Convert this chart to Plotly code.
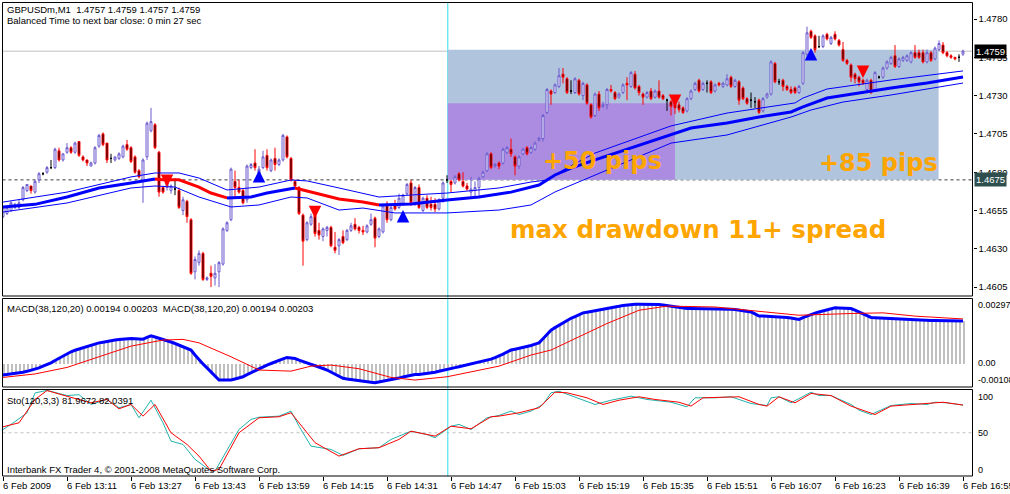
import plotly.graph_objects as go

# ---------------- data ----------------
BASE = 1.4600   # candle / moving-average values are pips above this level
PIP = 0.0001

OPEN = [51, 53, 55, 57, 57, 62, 68, 71, 67, 75,
        79, 80, 83, 83, 94, 88, 93, 96, 93, 100,
        90, 88, 84, 86, 97, 105, 99, 89, 88, 89,
        90, 98, 96, 90, 81, 74, 90, 107, 111, 93,
        70, 70, 68, 69, 68, 55, 61, 49, 15, 21,
        27, 10, 14, 11, 15, 20, 42, 49, 74, 70,
        68, 62, 83, 86, 77, 83, 91, 81, 89, 85,
        88, 103, 89, 74, 70, 52, 36, 46, 52, 42,
        38, 42, 44, 31, 32, 38, 36, 42, 46, 44,
        42, 41, 46, 50, 38, 41, 59, 49, 58, 57,
        59, 66, 73, 59, 70, 55, 63, 59, 59, 56,
        63, 75, 74, 73, 79, 74, 71, 67, 68, 70,
        77, 81, 92, 84, 86, 86, 93, 95, 90, 84,
        92, 96, 93, 95, 101, 102, 119, 133, 132, 136,
        144, 141, 133, 132, 140, 130, 137, 124, 117, 131,
        123, 124, 134, 132, 129, 132, 138, 136, 144, 136,
        131, 129, 133, 129, 133, 130, 127, 126, 128, 124,
        122, 120, 128, 134, 140, 134, 138, 139, 133, 138,
        136, 137, 142, 136, 139, 135, 128, 127, 126, 127,
        120, 129, 131, 151, 139, 140, 136, 134, 135, 132,
        138, 157, 172, 169, 162, 162, 170, 164, 170, 166,
        160, 153, 150, 144, 142, 140, 134, 140, 134, 142,
        142, 148, 151, 156, 149, 153, 153, 152, 158, 158,
        158, 152, 158, 154, 160, 163, 158, 156, 155, 155,
        157]
HIGH = [58, 58, 61, 60, 62, 71, 72, 71, 75, 80,
        80, 84, 88, 96, 96, 92, 99, 97, 100, 100,
        91, 88, 87, 97, 105, 106, 99, 92, 90, 93,
        98, 101, 97, 91, 82, 89, 113, 122, 112, 94,
        71, 78, 72, 76, 70, 64, 62, 50, 25, 29,
        28, 12, 19, 20, 22, 44, 48, 83, 81, 75,
        69, 85, 86, 95, 84, 94, 95, 89, 96, 89,
        105, 104, 90, 75, 71, 53, 48, 53, 53, 47,
        44, 45, 45, 41, 37, 42, 43, 47, 50, 45,
        45, 46, 53, 51, 44, 59, 61, 58, 62, 66,
        66, 73, 75, 71, 72, 64, 65, 64, 63, 63,
        74, 78, 75, 78, 80, 80, 73, 77, 74, 77,
        81, 93, 93, 86, 87, 96, 97, 102, 91, 91,
        96, 97, 97, 100, 103, 118, 135, 134, 138, 148,
        148, 142, 140, 142, 141, 139, 138, 125, 132, 133,
        126, 135, 137, 133, 132, 138, 142, 146, 146, 137,
        132, 133, 135, 134, 140, 131, 128, 127, 129, 126,
        123, 129, 134, 139, 141, 139, 140, 140, 138, 139,
        139, 144, 143, 141, 140, 136, 129, 132, 129, 128,
        129, 132, 153, 152, 141, 141, 137, 136, 136, 137,
        159, 175, 173, 170, 169, 170, 171, 169, 172, 167,
        165, 154, 151, 145, 143, 141, 141, 141, 146, 143,
        149, 153, 156, 163, 155, 156, 157, 159, 163, 160,
        160, 160, 159, 162, 166, 165, 159, 157, 155, 157,
        160]
LOW = [50, 52, 54, 56, 56, 61, 67, 66, 66, 73,
       78, 79, 82, 82, 87, 87, 92, 92, 92, 90,
       87, 84, 84, 85, 96, 97, 86, 86, 87, 88,
       89, 94, 86, 79, 76, 60, 88, 106, 95, 64,
       66, 68, 66, 65, 56, 52, 47, 13, 10, 19,
       9, 9, 5, 6, 5, 19, 41, 48, 64, 66,
       59, 60, 82, 81, 75, 82, 81, 80, 81, 84,
       87, 89, 74, 70, 52, 19, 35, 45, 38, 36,
       35, 38, 31, 27, 26, 33, 35, 41, 42, 40,
       39, 40, 45, 31, 37, 40, 47, 48, 55, 56,
       58, 65, 58, 58, 56, 54, 56, 55, 54, 55,
       60, 73, 67, 72, 74, 70, 68, 64, 64, 64,
       76, 80, 82, 83, 82, 85, 92, 90, 78, 82,
       91, 91, 92, 94, 100, 100, 118, 124, 131, 135,
       138, 131, 131, 131, 130, 127, 124, 115, 116, 120,
       122, 121, 132, 127, 128, 131, 127, 135, 134, 130,
       124, 128, 127, 128, 128, 127, 120, 117, 118, 119,
       118, 119, 127, 133, 132, 133, 132, 131, 132, 136,
       135, 136, 135, 135, 124, 127, 124, 122, 122, 118,
       119, 128, 130, 138, 137, 133, 133, 131, 131, 131,
       137, 155, 167, 158, 161, 161, 166, 163, 166, 162,
       152, 150, 139, 138, 136, 137, 133, 131, 133, 141,
       141, 147, 150, 148, 148, 152, 152, 151, 154, 154,
       151, 151, 152, 153, 159, 157, 155, 154, 153, 152,
       156]
CLOSE = [57, 57, 60, 59, 60, 70, 72, 68, 74, 79,
         79, 83, 83, 95, 88, 92, 96, 93, 99, 91,
         88, 86, 86, 96, 104, 98, 88, 89, 90, 92,
         97, 95, 87, 80, 77, 88, 112, 113, 96, 67,
         67, 77, 71, 69, 57, 62, 51, 14, 23, 27,
         10, 11, 12, 14, 21, 43, 47, 82, 70, 67,
         60, 84, 85, 83, 82, 90, 83, 88, 85, 88,
         104, 90, 75, 71, 53, 35, 47, 51, 40, 39,
         43, 44, 32, 29, 36, 34, 42, 45, 43, 42,
         41, 45, 49, 37, 43, 58, 49, 57, 56, 63,
         65, 72, 60, 70, 57, 63, 57, 57, 56, 62,
         73, 75, 72, 77, 75, 71, 69, 69, 70, 76,
         80, 92, 83, 85, 84, 95, 96, 92, 84, 90,
         95, 92, 96, 99, 102, 117, 134, 131, 137, 143,
         142, 132, 133, 141, 131, 138, 125, 116, 131, 122,
         124, 134, 133, 128, 131, 137, 137, 145, 135, 132,
         129, 132, 128, 133, 129, 128, 127, 123, 122, 121,
         119, 128, 133, 138, 133, 138, 138, 132, 137, 137,
         138, 141, 136, 140, 127, 128, 125, 127, 126, 119,
         128, 131, 152, 139, 139, 136, 134, 132, 132, 136,
         158, 171, 168, 160, 162, 169, 167, 168, 167, 163,
         153, 151, 142, 141, 139, 138, 140, 132, 145, 142,
         148, 152, 155, 149, 154, 155, 156, 158, 155, 155,
         152, 158, 153, 161, 164, 158, 156, 155, 154, 155,
         159]

# moving-average channel (pips above BASE) read at selected bars
MID_IDX = [0, 8, 16, 24, 32, 38, 40, 44, 49, 52, 56, 62, 66, 70, 73, 78, 84, 90, 94,
           102, 111, 119, 127, 134, 138, 142, 148, 157, 167, 172, 181, 189, 197, 200,
           206, 214, 222, 231, 240]
MID = [57.3, 59, 63.8, 69.7, 73, 75.6, 75, 75, 70.3, 66.4, 63.2, 63.8, 66.4, 68.4, 69.7,
       66.4, 62.5, 60.5, 58.6, 59.2, 61.9, 63.8, 67, 71.6, 78.2, 82.7, 88, 95.8, 104.9,
       108.8, 112.1, 116, 119.3, 122.6, 128.4, 131.7, 135, 138.2, 142.1]
UP_IDX = [0, 16, 32, 38, 44, 49, 56, 64, 72, 76, 84, 94, 102, 111, 124, 132, 136, 140,
          148, 157, 167, 181, 198, 200, 206, 222, 240]
UP = [60.5, 67, 76.9, 79.5, 79.5, 76.2, 68.4, 70.3, 74.9, 74.3, 69.7, 63.8, 65.1, 66.4,
      69.7, 73.6, 74.9, 81.4, 92.5, 101, 110.2, 118.6, 125.2, 128.4, 134.3, 140.2, 146.1]
LO_IDX = [0, 16, 32, 38, 43, 49, 57, 64, 72, 76, 84, 90, 98, 111, 124, 132, 138, 144,
          152, 167, 181, 197, 202, 210, 222, 240]
LO = [54, 59.9, 69.7, 71, 70.3, 63.8, 57.3, 58.6, 63.8, 63.2, 55.3, 56.6, 53.4, 53.4,
      55.3, 58.6, 67.1, 73.6, 82.7, 99, 104.3, 116, 120.6, 125.8, 130.4, 138.2]

# signal arrows: bar index and price (pips) of the arrow tip
BUY_IDX = [64, 100, 202]
BUY_TIP = [81.4, 55.3, 161]
SELL_IDX = [41, 78, 168, 215]
SELL_TIP = [70.3, 50, 122.6, 141.5]

# MACD(38,120,20) in units of 1e-5
MACD = [-55, -53, -51, -49, -47, -42, -38, -33, -29, -22,
        -14, -7, 1, 12, 23, 34, 45, 52, 59, 65,
        72, 77, 82, 88, 93, 96, 100, 103, 106, 108,
        110, 111, 113, 112, 111, 110, 118, 125, 120, 115,
        110, 103, 97, 90, 83, 75, 68, 60, 37, 14,
        -4, -22, -40, -59, -78, -78, -78, -78, -73, -68,
        -63, -53, -44, -34, -24, -17, -9, -2, 6, 13,
        19, 26, 23, 21, 14, 8, 1, -5, -12, -18,
        -25, -32, -42, -51, -61, -70, -73, -76, -78, -81,
        -83, -85, -88, -90, -87, -84, -81, -78, -73, -69,
        -64, -60, -55, -53, -52, -50, -49, -47, -42, -38,
        -33, -29, -25, -21, -17, -13, -9, -5, -1, 3,
        7, 11, 18, 25, 32, 41, 51, 60, 64, 68,
        71, 75, 81, 87, 93, 112, 132, 151, 163, 174,
        186, 197, 206, 214, 223, 231, 234, 237, 240, 243,
        247, 250, 254, 258, 261, 265, 268, 271, 271, 271,
        271, 271, 271, 271, 269, 267, 264, 262, 258, 255,
        251, 251, 251, 251, 251, 251, 251, 251, 251, 251,
        251, 251, 248, 246, 243, 240, 238, 235, 226, 216,
        216, 215, 215, 214, 214, 213, 210, 207, 204, 201,
        209, 217, 225, 230, 235, 240, 244, 249, 254, 253,
        252, 252, 251, 243, 235, 226, 218, 210, 209, 208,
        206, 205, 204, 203, 202, 201, 200, 198, 197, 197,
        197, 196, 196, 196, 196, 195, 195, 195, 195, 194,
        194]
SIG_IDX = [0, 8, 16, 24, 32, 40, 45, 49, 57, 64, 72, 77, 82, 89, 97, 103, 111, 124, 132,
           137, 145, 151, 159, 166, 178, 191, 199, 212, 220, 228, 240]
SIG = [-66, -50, -20, 29, 78, 106, 109, 93, 29, -32, -37, -14, -9, -26, -66, -78, -63, -14,
       37, 60, 129, 182, 243, 262, 258, 235, 220, 228, 231, 216, 203]

# Stochastic(120,3,3)
K_IDX = [0, 2, 6, 8, 11, 16, 19, 22, 26, 29, 32, 34, 37, 40, 42, 45, 48, 52, 53, 57, 59,
         62, 64, 69, 72, 74, 77, 82, 85, 89, 94, 97, 102, 106, 108, 112, 114, 117, 121,
         124, 127, 129, 132, 135, 137, 139, 142, 148, 152, 157, 161, 167, 171, 173, 178,
         182, 187, 191, 192, 194, 197, 202, 204, 207, 212, 214, 217, 221, 222, 227, 231,
         233, 236, 240]
K = [53.8, 59.6, 73, 96, 99, 93, 94, 82.7, 88.5, 78.9, 82.7, 67.3, 87.6, 61.5, 40.3, 36.5,
     19.2, 5.7, 5.7, 38.5, 53.8, 65.4, 68, 69.2, 75, 57.6, 34.5, 30.7, 23.8, 31.5, 32.7,
     42.3, 51.8, 48, 44.2, 57.6, 59.6, 53.8, 67.3, 70, 75, 71.1, 75, 82.7, 96.2, 98, 93,
     82.7, 87.6, 92.3, 88.5, 85.3, 80, 90.4, 90.4, 91.6, 83.8, 81.5, 90.4, 91.6, 84.6,
     96.9, 93, 93, 82.7, 76.1, 71.1, 78.9, 81.5, 83.8, 82.7, 85.3, 84.6, 81.97]
D_IDX = [0, 4, 8, 11, 16, 22, 26, 29, 32, 35, 38, 42, 46, 49, 52, 54, 59, 64, 69, 72, 78,
         84, 89, 94, 99, 102, 108, 112, 117, 122, 124, 129, 134, 138, 141, 146, 150, 154,
         159, 163, 169, 172, 175, 184, 189, 191, 194, 198, 202, 207, 212, 218, 222, 228,
         235, 240]
D = [56.9, 61.5, 88.5, 98.8, 92.2, 84.6, 88.5, 77.7, 82.7, 69.2, 82.7, 50, 36.5, 23, 5.7,
     7.6, 50, 67.3, 68.5, 73.1, 38.5, 23, 31.5, 32.7, 42.3, 51.8, 46.1, 57.6, 54.6, 68.5,
     69.2, 73.1, 78.9, 96.9, 96.2, 90.4, 82.7, 87.6, 91.6, 88.5, 85.3, 80.8, 90.4, 91.6,
     82.7, 80.8, 91.6, 84.6, 95.4, 93, 80.8, 71.1, 80.8, 82.7, 85.3, 82.04]

TIME_IDX = [0, 16, 32, 48, 64, 80, 96, 112, 128, 144, 160, 176, 192, 208, 224, 240]
TIME_LABELS = ["6 Feb 2009", "6 Feb 13:11", "6 Feb 13:27", "6 Feb 13:43", "6 Feb 13:59",
               "6 Feb 14:15", "6 Feb 14:31", "6 Feb 14:47", "6 Feb 15:03", "6 Feb 15:19",
               "6 Feb 15:35", "6 Feb 15:51", "6 Feb 16:07", "6 Feb 16:23", "6 Feb 16:39",
               "6 Feb 16:55"]
PRICE_TICKS = [1.4605, 1.4630, 1.4655, 1.4680, 1.4705, 1.4730, 1.4755, 1.4780]

BID = 1.4759
ENTRY = 1.4675
TARGET1 = 1.4725
TARGET2 = 1.4760
ZONE_START = 111.2
TARGET1_END = 168.0
TARGET2_END = 233.9
MACD_MAX, MACD_MIN = 0.00297, -0.00108

# ---------------- layout helpers ----------------
W, H = 1010, 494
def fy(p):  # pixel row -> paper y
    return 1 - p / H
def fx(p):
    return p / W

XL, XR = 2.5, 972.5
MAIN = (2.5, 296.0)
MACDP = (298.5, 387.0)
STOP = (389.5, 476.0)
FONT = "Liberation Sans, Arial, sans-serif"
SMALL = 9.5
BULL = "#6A5ACD"

def price(p):
    return BASE + p * PIP

fig = go.Figure()

# candles
body = [i for i in range(len(CLOSE)) if OPEN[i] != CLOSE[i]]
doji = [i for i in range(len(CLOSE)) if OPEN[i] == CLOSE[i]]
fig.add_trace(go.Candlestick(
    x=body, open=[price(OPEN[i]) for i in body], high=[price(HIGH[i]) for i in body],
    low=[price(LOW[i]) for i in body], close=[price(CLOSE[i]) for i in body],
    increasing=dict(line=dict(color=BULL, width=1), fillcolor="white"),
    decreasing=dict(line=dict(color="#FF0000", width=1), fillcolor="black"),
    whiskerwidth=0, xaxis="x", yaxis="y", showlegend=False, hoverinfo="skip"))
fig.add_trace(go.Candlestick(
    x=doji, open=[price(OPEN[i]) for i in doji], high=[price(HIGH[i]) for i in doji],
    low=[price(LOW[i]) for i in doji], close=[price(CLOSE[i]) for i in doji],
    increasing=dict(line=dict(color="black", width=1), fillcolor="black"),
    decreasing=dict(line=dict(color="black", width=1), fillcolor="black"),
    whiskerwidth=0, xaxis="x", yaxis="y", showlegend=False, hoverinfo="skip"))

# channel bands
for xs, ys in ((UP_IDX, UP), (LO_IDX, LO)):
    fig.add_trace(go.Scatter(x=xs, y=[price(v) for v in ys], mode="lines",
                             line=dict(color="#0000FF", width=1), xaxis="x", yaxis="y",
                             showlegend=False, hoverinfo="skip"))
# middle line: blue when rising, red when falling
segs = []
for k in range(len(MID_IDX) - 1):
    col = "#FF0000" if MID[k + 1] <= MID[k] else "#0000FF"
    if segs and segs[-1][0] == col:
        segs[-1][1].append(MID_IDX[k + 1]); segs[-1][2].append(MID[k + 1])
    else:
        segs.append([col, [MID_IDX[k], MID_IDX[k + 1]], [MID[k], MID[k + 1]]])
for col, xs, ys in segs:
    fig.add_trace(go.Scatter(x=xs, y=[price(v) for v in ys], mode="lines",
                             line=dict(color=col, width=3), xaxis="x", yaxis="y",
                             showlegend=False, hoverinfo="skip"))

# MACD pane
macd_v = [v * 1e-5 for v in MACD]
fig.add_trace(go.Bar(x=list(range(len(MACD))), y=macd_v, width=0.5,
                     marker=dict(color="#C0C0C0", line=dict(width=0)),
                     xaxis="x", yaxis="y2", showlegend=False, hoverinfo="skip"))
fig.add_trace(go.Scatter(x=list(range(len(MACD))), y=macd_v, mode="lines",
                         line=dict(color="#0000FF", width=3), xaxis="x", yaxis="y2",
                         showlegend=False, hoverinfo="skip"))
fig.add_trace(go.Scatter(x=SIG_IDX, y=[v * 1e-5 for v in SIG], mode="lines",
                         line=dict(color="#FF0000", width=1), xaxis="x", yaxis="y2",
                         showlegend=False, hoverinfo="skip"))

# Stochastic pane
fig.add_trace(go.Scatter(x=K_IDX, y=K, mode="lines", line=dict(color="#20B2AA", width=1),
                         xaxis="x", yaxis="y3", showlegend=False, hoverinfo="skip"))
fig.add_trace(go.Scatter(x=D_IDX, y=D, mode="lines", line=dict(color="#FF0000", width=1),
                         xaxis="x", yaxis="y3", showlegend=False, hoverinfo="skip"))

x_lo = -(3 - XL) / 4
x_hi = x_lo + (XR - XL) / 4

def prange(top_px, bot_px):
    # main pane: 1.4780 at row 19, 38.3 px per 25 pips
    ptop = 180 + (19 - top_px) / 1.532
    pbot = 180 - (bot_px - 19) / 1.532
    return [price(pbot), price(ptop)]

shapes = [
    dict(type="rect", xref="x", yref="y", x0=ZONE_START, x1=TARGET2_END, y0=ENTRY, y1=TARGET2,
         fillcolor="#B0C4DE", line=dict(width=0), layer="below"),
    dict(type="rect", xref="x", yref="y", x0=ZONE_START, x1=TARGET1_END, y0=ENTRY, y1=TARGET1,
         fillcolor="#AC8CE0", line=dict(width=0), layer="below"),
    dict(type="line", xref="paper", yref="y", x0=fx(XL), x1=fx(XR), y0=BID, y1=BID,
         line=dict(color="#C0C0C0", width=1), layer="below"),
    dict(type="line", xref="paper", yref="y", x0=fx(XL), x1=fx(XR), y0=ENTRY, y1=ENTRY,
         line=dict(color="#3A3A3A", width=1, dash="3px,3px"), layer="below"),
    dict(type="line", xref="paper", yref="y3", x0=fx(XL), x1=fx(XR), y0=50, y1=50,
         line=dict(color="#C0C0C0", width=1, dash="3px,3px"), layer="below"),
    dict(type="line", xref="x", yref="paper", x0=ZONE_START, x1=ZONE_START,
         y0=fy(STOP[1]), y1=fy(MAIN[0]), line=dict(color="#33DDEE", width=1), layer="below"),
]
for top, bot in (MAIN, MACDP, STOP):
    shapes.append(dict(type="rect", xref="paper", yref="paper", x0=fx(XL), x1=fx(XR),
                       y0=fy(bot), y1=fy(top), line=dict(color="black", width=1),
                       fillcolor="rgba(0,0,0,0)", layer="above"))

ann = []
def txt(text, x, y, size=SMALL, color="black", xanchor="left", bold=False, family=FONT, **kw):
    d = dict(text=("<b>%s</b>" % text) if bold else text, xref="paper", yref="paper",
             x=fx(x), y=fy(y), xanchor=xanchor, yanchor="middle", showarrow=False,
             font=dict(family=family, size=size, color=color))
    d.update(kw)
    ann.append(d)

txt("GBPUSDm,M1\u00a0\u00a01.4757 1.4759 1.4757 1.4759", 5, 10)
txt("Balanced Time to next bar close: 0 min 27 sec", 5, 20.5)
txt("MACD(38,120,20) 0.00194 0.00203\u00a0\u00a0MACD(38,120,20) 0.00194 0.00203", 5, 308.5)
txt("Sto(120,3,3) 81.9672 82.0391", 5, 400)
txt("Interbank FX Trader 4, \u00a9 2001-2008 MetaQuotes Software Corp.", 5, 469)

# signal arrows (drawn as arrows with shafts)
for i, p in zip(BUY_IDX, BUY_TIP):
    ann.append(dict(x=i, y=price(p), xref="x", yref="y", ax=0, ay=12, showarrow=True,
                    arrowhead=2, arrowsize=1.0, arrowwidth=2.5, arrowcolor="#0000FF", text=""))
for i, p in zip(SELL_IDX, SELL_TIP):
    ann.append(dict(x=i, y=price(p), xref="x", yref="y", ax=0, ay=-12, showarrow=True,
                    arrowhead=2, arrowsize=1.0, arrowwidth=2.5, arrowcolor="#FF0000", text=""))

BIG = "DejaVu Sans, Verdana, sans-serif"
txt("+50 pips", 602.5, 161.5, size=24, color="#FFA500", xanchor="center", bold=True, family=BIG)
txt("+85 pips", 878.5, 162.5, size=24, color="#FFA500", xanchor="center", bold=True, family=BIG)
txt("max drawdown 11+ spread", 698, 229.5, size=24.5, color="#FFA500", xanchor="center",
    bold=True, family=BIG)

# right-hand scale labels of the indicator panes
txt("%.5f" % MACD_MAX, 976, 305, size=9)
txt("0.00", 976, 363, size=9)
txt("%.5f" % MACD_MIN, 976, 380, size=9)
txt("100", 976, 397, size=9)
txt("50", 976, 433, size=9)
txt("0", 976, 470, size=9)

# price boxes
ann.append(dict(text="%.4f" % BID, xref="paper", yref="y", x=fx(974), y=BID, xanchor="left",
                yanchor="middle", showarrow=False, bgcolor="black", borderpad=1,
                font=dict(family=FONT, size=SMALL, color="white")))
ann.append(dict(text="%.4f" % ENTRY, xref="paper", yref="y", x=fx(974), y=ENTRY,
                xanchor="left", yanchor="middle", showarrow=False, bgcolor="#2F4F4F",
                borderpad=1, font=dict(family=FONT, size=SMALL, color="white")))

# time labels
for i, lab in zip(TIME_IDX, TIME_LABELS):
    ann.append(dict(text=lab, xref="x", yref="paper", x=i, y=fy(485), xanchor="left",
                    yanchor="middle", xshift=-2, showarrow=False,
                    font=dict(family=FONT, size=SMALL, color="black")))

fig.update_layout(
    template="none", width=W, height=H, margin=dict(l=0, r=0, t=0, b=0),
    paper_bgcolor="white", plot_bgcolor="white", font=dict(family=FONT, size=SMALL),
    showlegend=False, boxgap=0.3, bargap=0, hovermode=False, dragmode=False,
    xaxis=dict(domain=[fx(XL), fx(XR)], range=[x_lo, x_hi], anchor="y3",
               rangeslider=dict(visible=False), showgrid=False, zeroline=False,
               showline=False, tickvals=TIME_IDX, ticks="outside", ticklen=4,
               tickcolor="black", showticklabels=False, automargin=False, fixedrange=True),
    yaxis=dict(domain=[fy(MAIN[1]), fy(MAIN[0])], range=prange(*MAIN), side="right",
               anchor="x", showgrid=False, zeroline=False, showline=False,
               tickvals=PRICE_TICKS, ticktext=["%.4f" % v for v in PRICE_TICKS],
               ticks="outside", ticklen=3, tickcolor="black",
               tickfont=dict(family=FONT, size=SMALL, color="black"), automargin=False),
    yaxis2=dict(domain=[fy(MACDP[1]), fy(MACDP[0])], range=[-0.00110, 0.00297],
                anchor="x", side="right", showgrid=False, zeroline=False, showline=False,
                showticklabels=False, ticks="", automargin=False),
    yaxis3=dict(domain=[fy(STOP[1]), fy(STOP[0])], range=[0, 100], anchor="x",
                side="right", showgrid=False, zeroline=False, showline=False,
                showticklabels=False, ticks="", automargin=False),
    shapes=shapes, annotations=ann,
)

fig.write_html("out.html", config={"displayModeBar": False},
               post_script="document.body.style.margin='0px';document.body.style.padding='0px';")
